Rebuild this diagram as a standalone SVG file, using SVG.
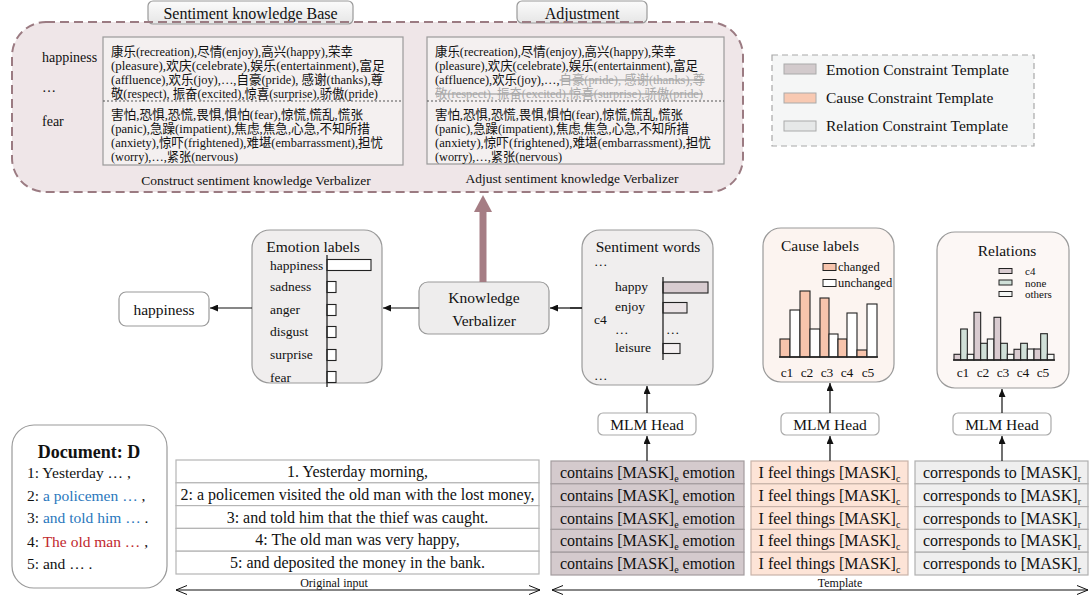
<svg xmlns="http://www.w3.org/2000/svg" width="1090" height="599" viewBox="0 0 1090 599">
<defs>
<marker id="ah" markerWidth="8" markerHeight="7" refX="8" refY="3.5" orient="auto" markerUnits="userSpaceOnUse"><path d="M0,0 L8,3.5 L0,7 z" fill="#111"/></marker>
<marker id="oh" markerWidth="12" markerHeight="10" refX="11" refY="5" orient="auto-start-reverse" markerUnits="userSpaceOnUse"><path d="M0,0.5 L11,5 L0,9.5" fill="none" stroke="#111" stroke-width="1"/></marker>
<linearGradient id="tabg" x1="0" y1="0" x2="0" y2="1"><stop offset="0" stop-color="#fbfbfb"/><stop offset="1" stop-color="#e6e6e6"/></linearGradient>
</defs>
<style>
text{font-family:"Liberation Serif","Noto Sans CJK SC",serif;fill:#111}
.kb{font-size:13px}
.del{fill:#a8a8a8;text-decoration:line-through}
.t16{font-size:16px}
.t155{font-size:15.5px}
.t14{font-size:14px}
.t135{font-size:13.5px}
.t125{font-size:12.5px}
.t11{font-size:11px}
.mid{text-anchor:middle}
.box{stroke:#9a9a9a;stroke-width:1.2}
.bar{stroke:#222;stroke-width:1.1}
.conn{stroke:#111;stroke-width:1.2;fill:none}
.emo{fill:#d4cacd;stroke:#a39c9e;stroke-width:1.2}
.cau{fill:#fde4d7;stroke:#c9b3a8;stroke-width:1.2}
.rel{fill:#efefef;stroke:#b0b0b0;stroke-width:1.2}
.inp{fill:#fff;stroke:#b5b5b5;stroke-width:1.2}
.blue{fill:#2a78bd}
.red{fill:#c1272d}
</style>

<g id="knowledge-panel">
<rect x="12" y="22" width="731" height="170" rx="34" fill="#efe6e8"/>
<g id="tab-base"><rect x="148" y="1" width="205" height="23" rx="5" fill="url(#tabg)" stroke="#9a9a9a" stroke-width="1.2"/><text x="250.5" y="19" class="t16 mid">Sentiment knowledge Base</text></g>
<g id="tab-adjust"><rect x="517" y="1" width="130" height="22" rx="5" fill="url(#tabg)" stroke="#9a9a9a" stroke-width="1.2"/><text x="582" y="19" class="t16 mid">Adjustment</text></g>
<rect x="12" y="22" width="731" height="170" rx="34" fill="none" stroke="#9b7b82" stroke-width="2" stroke-dasharray="9 5"/>

<g id="kb-left">
<rect x="103" y="37" width="300" height="128" fill="#f4f0f0" class="box"/>
<line x1="103" y1="101" x2="403" y2="101" stroke="#555" stroke-width="1" stroke-dasharray="2 2"/>
<text x="42" y="62" class="t14">happiness</text>
<text x="42" y="92" class="t14">…</text>
<text x="42" y="126" class="t14">fear</text>
<text x="111" y="55.5" class="kb" textLength="242" lengthAdjust="spacingAndGlyphs">康乐(recreation),尽情(enjoy),高兴(happy),荣幸</text>
<text x="111" y="70" class="kb" textLength="274" lengthAdjust="spacingAndGlyphs">(pleasure),欢庆(celebrate),娱乐(entertainment),富足</text>
<text x="111" y="84" class="kb" textLength="272" lengthAdjust="spacingAndGlyphs">(affluence),欢乐(joy),…,自豪(pride), 感谢(thanks),尊</text>
<text x="111" y="98" class="kb" textLength="267" lengthAdjust="spacingAndGlyphs">敬(respect), 振奋(excited),惊喜(surprise),骄傲(pride)</text>
<text x="111" y="119" class="kb" textLength="252" lengthAdjust="spacingAndGlyphs">害怕,恐惧,恐慌,畏惧,惧怕(fear),惊慌,慌乱,慌张</text>
<text x="111" y="133" class="kb" textLength="259" lengthAdjust="spacingAndGlyphs">(panic),急躁(impatient),焦虑,焦急,心急,不知所措</text>
<text x="111" y="147" class="kb" textLength="272" lengthAdjust="spacingAndGlyphs">(anxiety),惊吓(frightened),难堪(embarrassment),担忧</text>
<text x="111" y="161" class="kb" textLength="127" lengthAdjust="spacingAndGlyphs">(worry),…,紧张(nervous)</text>
<text x="256" y="185" class="t135 mid">Construct sentiment knowledge Verbalizer</text>
</g>

<g id="kb-right">
<rect x="427" y="37" width="297" height="127" fill="#f4f0f0" class="box"/>
<line x1="427" y1="101" x2="724" y2="101" stroke="#555" stroke-width="1" stroke-dasharray="2 2"/>
<text x="435" y="55.5" class="kb" textLength="241" lengthAdjust="spacingAndGlyphs">康乐(recreation),尽情(enjoy),高兴(happy),荣幸</text>
<text x="435" y="70" class="kb" textLength="263" lengthAdjust="spacingAndGlyphs">(pleasure),欢庆(celebrate),娱乐(entertainment),富足</text>
<text x="435" y="84" class="kb" textLength="270" lengthAdjust="spacingAndGlyphs">(affluence),欢乐(joy),…,<tspan class="del">自豪(pride), 感谢(thanks),尊</tspan></text>
<text x="435" y="98" class="kb del" textLength="268" lengthAdjust="spacingAndGlyphs">敬(respect), 振奋(excited),惊喜(surprise),骄傲(pride)</text>
<text x="435" y="119" class="kb" textLength="248" lengthAdjust="spacingAndGlyphs">害怕,恐惧,恐慌,畏惧,惧怕(fear),惊慌,慌乱,慌张</text>
<text x="435" y="133" class="kb" textLength="254" lengthAdjust="spacingAndGlyphs">(panic),急躁(impatient),焦虑,焦急,心急,不知所措</text>
<text x="435" y="147" class="kb" textLength="276" lengthAdjust="spacingAndGlyphs">(anxiety),惊吓(frightened),难堪(embarrassment),担忧</text>
<text x="435" y="161" class="kb" textLength="127" lengthAdjust="spacingAndGlyphs">(worry),…,紧张(nervous)</text>
<text x="572" y="183" class="t135 mid">Adjust sentiment knowledge Verbalizer</text>
</g>
</g>

<g id="legend">
<rect x="772" y="55" width="262" height="91" fill="#f5f6f6" stroke="#a8a8a8" stroke-width="1.2" stroke-dasharray="6 4"/>
<rect x="784" y="64" width="32" height="10" fill="#d2cacc" stroke="#aaa" stroke-width="1"/>
<text x="826" y="75" class="t155" fill="#333">Emotion Constraint Template</text>
<rect x="784" y="93" width="32" height="10" fill="#f8c9b2" stroke="#aaa" stroke-width="1"/>
<text x="826" y="103" class="t155">Cause Constraint Template</text>
<rect x="784" y="121" width="32" height="10" fill="#e6e8e8" stroke="#aaa" stroke-width="1"/>
<text x="826" y="131" class="t155">Relation Constraint Template</text>
</g>

<g id="happiness-output">
<rect x="119" y="292" width="90" height="34" rx="7" fill="#fff" class="box"/>
<text x="164" y="315" class="t155 mid">happiness</text>
</g>

<g id="emotion-labels">
<rect x="252" y="230" width="130" height="153" rx="18" fill="#f0eeee" class="box"/>
<text x="313" y="252" class="t155 mid">Emotion labels</text>
<text x="270" y="270" class="t135">happiness</text>
<text x="270" y="291" class="t135">sadness</text>
<text x="270" y="314" class="t135">anger</text>
<text x="270" y="336" class="t135">disgust</text>
<text x="270" y="359" class="t135">surprise</text>
<text x="270" y="382" class="t135">fear</text>
<rect x="327" y="259.5" width="44" height="11" fill="#fff" class="bar"/>
<rect x="327" y="281.5" width="9" height="11" fill="#fff" class="bar"/>
<rect x="327" y="304.5" width="9" height="11" fill="#fff" class="bar"/>
<rect x="327" y="326.5" width="9" height="11" fill="#fff" class="bar"/>
<rect x="327" y="349.5" width="9" height="11" fill="#fff" class="bar"/>
<rect x="327" y="371.5" width="9" height="11" fill="#fff" class="bar"/>
<line x1="327" y1="255" x2="327" y2="387" stroke="#222" stroke-width="1.3"/>
</g>

<g id="knowledge-verbalizer">
<rect x="419" y="282" width="130" height="52" rx="9" fill="#eeeded" class="box"/>
<text x="484" y="303" class="t155 mid">Knowledge</text>
<text x="484" y="326" class="t155 mid">Verbalizer</text>
</g>

<g id="sentiment-words">
<rect x="582" y="230" width="131" height="155" rx="18" fill="#f0eeee" class="box"/>
<text x="648" y="252" class="t155 mid">Sentiment words</text>
<text x="594" y="266" class="t135">…</text>
<text x="615" y="291" class="t135">happy</text>
<text x="615" y="311" class="t135">enjoy</text>
<text x="594" y="324" class="t135">c4</text>
<text x="615" y="334" class="t135">…</text>
<text x="666" y="334" class="t135">…</text>
<text x="615" y="352" class="t135">leisure</text>
<text x="594" y="380" class="t135">…</text>
<rect x="663" y="282" width="45" height="11" fill="#d8ccd0" class="bar"/>
<rect x="663" y="302.5" width="24" height="10.5" fill="#ebe4e6" class="bar"/>
<rect x="663" y="343.5" width="17" height="10" fill="#f4f0f1" class="bar"/>
<line x1="663" y1="277" x2="663" y2="360" stroke="#222" stroke-width="1.3"/>
</g>

<g id="cause-labels">
<rect x="763" y="228" width="131" height="154" rx="18" fill="#fcf4f0" class="box"/>
<text x="820" y="251" class="t155 mid">Cause labels</text>
<rect x="823" y="263.5" width="13" height="7" fill="#f7c4ac" stroke="#222" stroke-width="1"/>
<text x="838" y="271" class="t125">changed</text>
<rect x="823" y="279.5" width="13" height="7" fill="#fff" stroke="#222" stroke-width="1"/>
<text x="838" y="286.5" class="t125">unchanged</text>
<g class="bar">
<rect x="780" y="339" width="10" height="18" fill="#f7c4ac"/>
<rect x="790" y="310" width="10" height="47" fill="#fff"/>
<rect x="800" y="291" width="10" height="66" fill="#f7c4ac"/>
<rect x="810" y="329" width="10" height="28" fill="#fff"/>
<rect x="820" y="298" width="9" height="59" fill="#f7c4ac"/>
<rect x="829" y="334" width="9" height="23" fill="#fff"/>
<rect x="838" y="339" width="9" height="18" fill="#f7c4ac"/>
<rect x="847" y="313" width="10" height="44" fill="#fff"/>
<rect x="857" y="350" width="10" height="7" fill="#f7c4ac"/>
<rect x="867" y="304" width="10" height="53" fill="#fff"/>
</g>
<line x1="779" y1="357" x2="878" y2="357" stroke="#222" stroke-width="1.3"/>
<text x="787" y="377" class="t135 mid">c1</text>
<text x="807" y="377" class="t135 mid">c2</text>
<text x="827" y="377" class="t135 mid">c3</text>
<text x="847" y="377" class="t135 mid">c4</text>
<text x="868" y="377" class="t135 mid">c5</text>
</g>

<g id="relations">
<rect x="937" y="232" width="132" height="156" rx="18" fill="#fcf7f5" class="box"/>
<text x="1007" y="256" class="t155 mid">Relations</text>
<rect x="999" y="268.5" width="13" height="5" fill="#d9cbd0" stroke="#222" stroke-width="1"/>
<text x="1025" y="275" class="t11">c4</text>
<rect x="999" y="280" width="13" height="5" fill="#d0e0d8" stroke="#222" stroke-width="1"/>
<text x="1025" y="286.5" class="t11">none</text>
<rect x="999" y="291.5" width="13" height="5" fill="#f4f6f4" stroke="#222" stroke-width="1"/>
<text x="1025" y="298" class="t11">others</text>
<g class="bar">
<rect x="954" y="354.3" width="6.67" height="5.7" fill="#d9cbd0"/>
<rect x="960.67" y="329" width="6.67" height="31" fill="#d0e0d8"/>
<rect x="967.33" y="354.3" width="6.67" height="5.7" fill="#f4f6f4"/>
<rect x="974" y="312.3" width="6.67" height="47.7" fill="#d9cbd0"/>
<rect x="980.67" y="343.3" width="6.67" height="16.7" fill="#d0e0d8"/>
<rect x="987.33" y="339" width="6.67" height="21" fill="#f4f6f4"/>
<rect x="994" y="317.3" width="6.67" height="42.7" fill="#d9cbd0"/>
<rect x="1000.67" y="343.3" width="6.67" height="16.7" fill="#d0e0d8"/>
<rect x="1007.33" y="354.3" width="6.67" height="5.7" fill="#f4f6f4"/>
<rect x="1014" y="349.3" width="6.67" height="10.7" fill="#d9cbd0"/>
<rect x="1020.67" y="343.3" width="6.67" height="16.7" fill="#d0e0d8"/>
<rect x="1027.33" y="349" width="6.67" height="11" fill="#f4f6f4"/>
<rect x="1034" y="349" width="6.67" height="11" fill="#d9cbd0"/>
<rect x="1040.67" y="333.7" width="6.67" height="26.3" fill="#d0e0d8"/>
<rect x="1047.33" y="354.3" width="6.67" height="5.7" fill="#f4f6f4"/>
</g>
<line x1="953" y1="360" x2="1055" y2="360" stroke="#222" stroke-width="1.3"/>
<text x="963" y="377" class="t135 mid">c1</text>
<text x="983" y="377" class="t135 mid">c2</text>
<text x="1003" y="377" class="t135 mid">c3</text>
<text x="1023" y="377" class="t135 mid">c4</text>
<text x="1043" y="377" class="t135 mid">c5</text>
</g>

<g id="mlm-head-1"><rect x="598" y="413" width="98" height="22" rx="5" fill="#fff" stroke="#aaa" stroke-width="1.2"/><text x="647" y="430" class="t155 mid">MLM Head</text></g>
<g id="mlm-head-2"><rect x="781" y="413" width="98" height="22" rx="5" fill="#fff" stroke="#aaa" stroke-width="1.2"/><text x="830" y="430" class="t155 mid">MLM Head</text></g>
<g id="mlm-head-3"><rect x="953" y="413" width="98" height="22" rx="5" fill="#fff" stroke="#aaa" stroke-width="1.2"/><text x="1002" y="430" class="t155 mid">MLM Head</text></g>

<g id="document">
<rect x="12" y="425" width="155" height="163" rx="22" fill="#fff" class="box"/>
<text x="89" y="458" class="mid" style="font-size:18px;font-weight:bold">Document: D</text>
<text x="27" y="478" class="t155">1: Yesterday … ,</text>
<text x="27" y="501" class="t155">2: <tspan class="blue">a policemen …</tspan> ,</text>
<text x="27" y="523" class="t155">3: <tspan class="blue">and told him …</tspan> .</text>
<text x="27" y="547" class="t155">4: <tspan class="red">The old man …</tspan> ,</text>
<text x="27" y="569" class="t155">5: and … .</text>
</g>

<g id="original-input">
<rect x="176" y="460" width="363" height="22.8" class="inp"/>
<rect x="176" y="482.8" width="363" height="22.8" class="inp"/>
<rect x="176" y="505.6" width="363" height="22.8" class="inp"/>
<rect x="176" y="528.4" width="363" height="22.8" class="inp"/>
<rect x="176" y="551.2" width="363" height="22.8" class="inp"/>
<text x="357.5" y="477" class="t16 mid">1. Yesterday morning,</text>
<text x="357.5" y="499.8" class="t16 mid">2: a policemen visited the old man with the lost money,</text>
<text x="357.5" y="522.6" class="t16 mid">3: and told him that the thief was caught.</text>
<text x="357.5" y="545.4" class="t16 mid">4: The old man was very happy,</text>
<text x="357.5" y="568.2" class="t16 mid">5: and deposited the money in the bank.</text>
<text x="334" y="587" class="mid" style="font-size:12px">Original input</text>
</g>

<g id="emotion-template">
<rect x="551" y="461" width="193" height="22.8" class="emo"/>
<rect x="551" y="483.8" width="193" height="22.8" class="emo"/>
<rect x="551" y="506.6" width="193" height="22.8" class="emo"/>
<rect x="551" y="529.4" width="193" height="22.8" class="emo"/>
<rect x="551" y="552.2" width="193" height="22.8" class="emo"/>
<text x="647.5" y="478" class="t16 mid">contains [MASK]<tspan dy="4" style="font-size:10px">e</tspan><tspan dy="-4"> emotion</tspan></text>
<text x="647.5" y="500.8" class="t16 mid">contains [MASK]<tspan dy="4" style="font-size:10px">e</tspan><tspan dy="-4"> emotion</tspan></text>
<text x="647.5" y="523.6" class="t16 mid">contains [MASK]<tspan dy="4" style="font-size:10px">e</tspan><tspan dy="-4"> emotion</tspan></text>
<text x="647.5" y="546.4" class="t16 mid">contains [MASK]<tspan dy="4" style="font-size:10px">e</tspan><tspan dy="-4"> emotion</tspan></text>
<text x="647.5" y="569.2" class="t16 mid">contains [MASK]<tspan dy="4" style="font-size:10px">e</tspan><tspan dy="-4"> emotion</tspan></text>
</g>

<g id="cause-template">
<rect x="751" y="461" width="157" height="22.8" class="cau"/>
<rect x="751" y="483.8" width="157" height="22.8" class="cau"/>
<rect x="751" y="506.6" width="157" height="22.8" class="cau"/>
<rect x="751" y="529.4" width="157" height="22.8" class="cau"/>
<rect x="751" y="552.2" width="157" height="22.8" class="cau"/>
<text x="829.5" y="478" class="t16 mid">I feel things [MASK]<tspan dy="4" style="font-size:10px">c</tspan></text>
<text x="829.5" y="500.8" class="t16 mid">I feel things [MASK]<tspan dy="4" style="font-size:10px">c</tspan></text>
<text x="829.5" y="523.6" class="t16 mid">I feel things [MASK]<tspan dy="4" style="font-size:10px">c</tspan></text>
<text x="829.5" y="546.4" class="t16 mid">I feel things [MASK]<tspan dy="4" style="font-size:10px">c</tspan></text>
<text x="829.5" y="569.2" class="t16 mid">I feel things [MASK]<tspan dy="4" style="font-size:10px">c</tspan></text>
</g>

<g id="relation-template">
<rect x="915" y="461" width="173" height="22.8" class="rel"/>
<rect x="915" y="483.8" width="173" height="22.8" class="rel"/>
<rect x="915" y="506.6" width="173" height="22.8" class="rel"/>
<rect x="915" y="529.4" width="173" height="22.8" class="rel"/>
<rect x="915" y="552.2" width="173" height="22.8" class="rel"/>
<text x="1002" y="478" class="t16 mid">corresponds to [MASK]<tspan dy="4" style="font-size:10px">r</tspan></text>
<text x="1002" y="500.8" class="t16 mid">corresponds to [MASK]<tspan dy="4" style="font-size:10px">r</tspan></text>
<text x="1002" y="523.6" class="t16 mid">corresponds to [MASK]<tspan dy="4" style="font-size:10px">r</tspan></text>
<text x="1002" y="546.4" class="t16 mid">corresponds to [MASK]<tspan dy="4" style="font-size:10px">r</tspan></text>
<text x="1002" y="569.2" class="t16 mid">corresponds to [MASK]<tspan dy="4" style="font-size:10px">r</tspan></text>
<text x="840" y="587" class="mid" style="font-size:12px">Template</text>
</g>

<g id="connectors">
<line x1="483" y1="282" x2="483" y2="210" stroke="#a57d84" stroke-width="7"/>
<path d="M474,212 L492,212 L483,195 z" fill="#a57d84"/>
<line x1="252" y1="308" x2="210" y2="308" class="conn" marker-end="url(#ah)"/>
<line x1="419" y1="308" x2="383" y2="308" class="conn" marker-end="url(#ah)"/>
<line x1="582" y1="308" x2="550" y2="308" class="conn" marker-end="url(#ah)"/>
<line x1="570" y1="308" x2="582" y2="308" class="conn"/>
<line x1="647" y1="413" x2="647" y2="386" class="conn" marker-end="url(#ah)"/>
<line x1="830" y1="413" x2="830" y2="383" class="conn" marker-end="url(#ah)"/>
<line x1="1002" y1="413" x2="1002" y2="389" class="conn" marker-end="url(#ah)"/>
<line x1="647" y1="461" x2="647" y2="436" class="conn" marker-end="url(#ah)"/>
<line x1="830" y1="461" x2="830" y2="436" class="conn" marker-end="url(#ah)"/>
<line x1="1002" y1="461" x2="1002" y2="436" class="conn" marker-end="url(#ah)"/>
<line x1="176" y1="590" x2="540" y2="590" class="conn" marker-start="url(#oh)" marker-end="url(#oh)"/>
<line x1="552" y1="590" x2="1088" y2="590" class="conn" marker-start="url(#oh)" marker-end="url(#oh)"/>
</g>
</svg>
